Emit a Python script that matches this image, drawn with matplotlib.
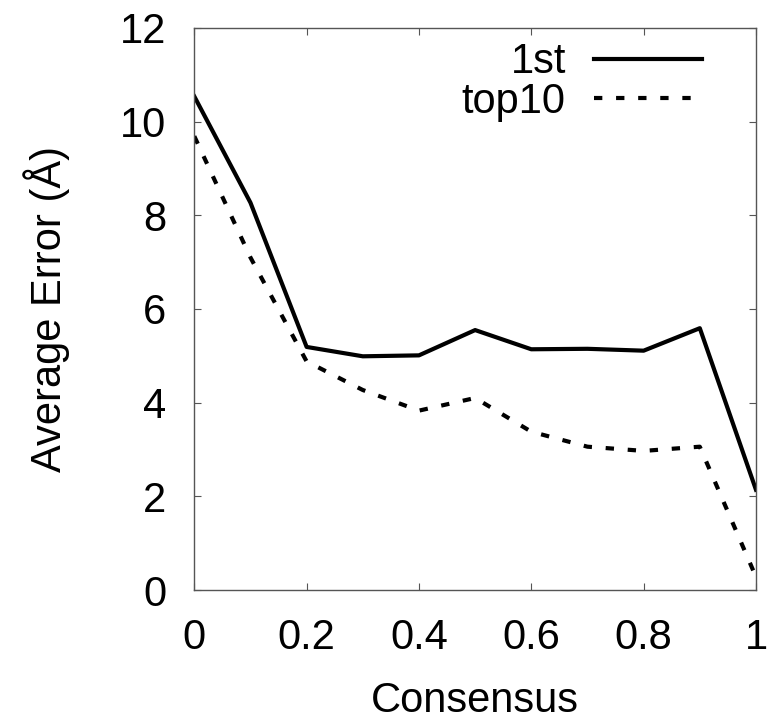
import matplotlib
matplotlib.use("Agg")
import matplotlib.pyplot as plt

plt.rcParams['font.family'] = ['Liberation Sans', 'DejaVu Sans']

consensus = [0.0, 0.1, 0.2, 0.3, 0.4, 0.5, 0.6, 0.7, 0.8, 0.9, 1.0]
first = [10.54, 8.27, 5.19, 4.99, 5.01, 5.55, 5.14, 5.15, 5.11, 5.59, 2.14]
top10 = [9.69, 7.10, 4.88, 4.27, 3.83, 4.10, 3.38, 3.06, 2.97, 3.06, 0.28]
xticks = [0, 0.2, 0.4, 0.6, 0.8, 1]
xticklabels = ['0', '0.2', '0.4', '0.6', '0.8', '1']
yticks = [0, 2, 4, 6, 8, 10, 12]

fig = plt.figure(figsize=(7.71, 7.25), dpi=100)
ax = fig.add_axes([0.252, 0.1862, 0.7285, 0.7752])
ax.plot(consensus, first, color='black', lw=3.0, label='1st')
ax.plot(consensus, top10, color='black', lw=3.0, linestyle=(0, (2.0, 3.3)), label='top10')
ax.set_xlim(0, 1)
ax.set_ylim(0, 12)
ax.set_xticks(xticks)
ax.set_xticklabels(xticklabels)
ax.set_yticks(yticks)
fs = 30
ax.tick_params(direction='in', length=5, width=0.8, color='#555555', labelsize=fs,
               top=True, right=True, pad=20)
for s in ax.spines.values():
    s.set_color('#555555')
    s.set_linewidth(1.0)
ax.set_xlabel('Consensus', fontsize=fs, labelpad=17)
ax.set_ylabel('Average Error (Å)', fontsize=fs, labelpad=36)
leg = ax.legend(loc='upper right', bbox_to_anchor=(0.9336, 1.004), frameon=False,
                fontsize=fs, markerfirst=False, handlelength=2.6, handletextpad=0.67,
                labelspacing=-0.01, borderaxespad=0)
fig.savefig('out.png', dpi=100)
